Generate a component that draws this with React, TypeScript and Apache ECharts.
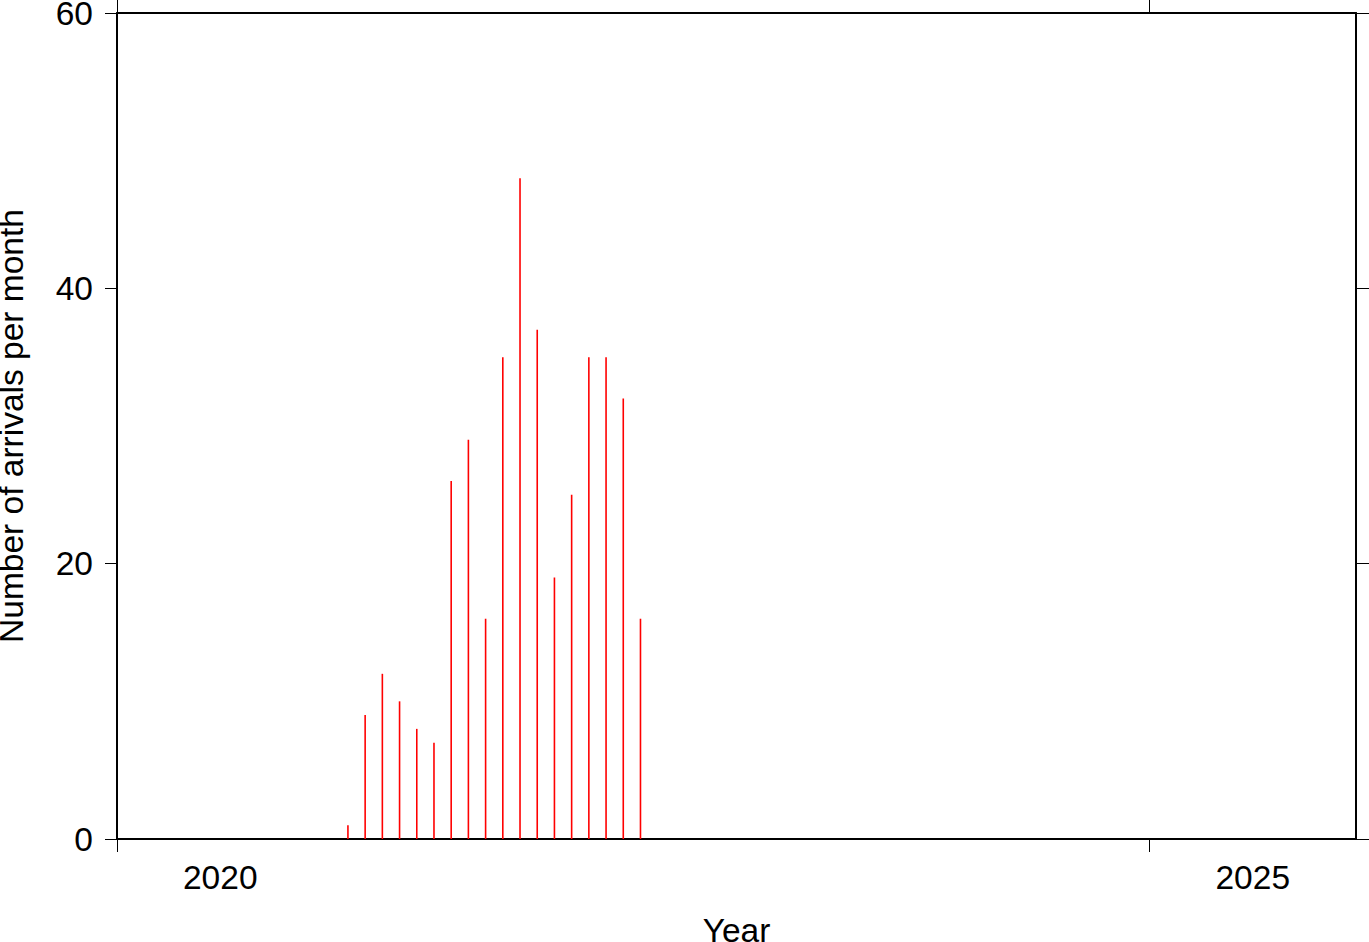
import React, { useEffect, useRef } from "react";
import * as echarts from "echarts";

const months = [
  "2021-02", "2021-03", "2021-04", "2021-05", "2021-06", "2021-07",
  "2021-08", "2021-09", "2021-10", "2021-11", "2021-12", "2022-01",
  "2022-02", "2022-03", "2022-04", "2022-05", "2022-06", "2022-07",
];
const arrivals = [1, 9, 12, 10, 8, 7, 26, 29, 16, 35, 48, 37, 19, 25, 35, 35, 32, 16];
const yearTicks = [2020, 2025];
const yearLabels = [2020, 2025];
const yTicks = [0, 20, 40, 60];

function monthToYear(m: string): number {
  const [y, mo] = m.split("-").map(Number);
  return y + (mo - 1 + 0.42) / 12;
}

const FONT = "Liberation Sans, Helvetica, Arial, sans-serif";
const FS = 33.5;

export default function App() {
  const ref = useRef<HTMLDivElement>(null);
  useEffect(() => {
    if (!ref.current) return;
    const chart = echarts.init(ref.current, null, { renderer: "svg" });
    const line = { show: true, onZero: false, lineStyle: { color: "#000", width: 2 } };
    chart.setOption({
      animation: false,
      backgroundColor: "#fff",
      grid: {
        left: 117,
        right: 13,
        top: 13,
        bottom: 103,
        containLabel: false,
        outerBoundsMode: "none",
      },
      xAxis: [
        {
          type: "value",
          position: "bottom",
          min: 2020,
          max: 2026,
          axisLine: line,
          axisTick: {
            show: true,
            customValues: yearTicks,
            length: 13,
            lineStyle: { color: "#000", width: 1 },
          },
          axisLabel: {
            show: true,
            customValues: yearLabels.map((y) => y + 0.5),
            formatter: (v: number) => String(Math.floor(v)),
            fontSize: FS,
            fontFamily: FONT,
            color: "#000",
            margin: 21,
          },
          splitLine: { show: false },
          name: "Year",
          nameLocation: "middle",
          nameGap: 74,
          nameTextStyle: { fontSize: FS, fontFamily: FONT, color: "#000" },
        },
        {
          type: "value",
          position: "top",
          min: 2020,
          max: 2026,
          axisLine: line,
          axisTick: {
            show: true,
            customValues: yearTicks,
            length: 13,
            lineStyle: { color: "#000", width: 1 },
          },
          axisLabel: { show: false },
          splitLine: { show: false },
        },
      ],
      yAxis: [
        {
          type: "value",
          position: "left",
          min: 0,
          max: 60,
          axisLine: line,
          axisTick: {
            show: true,
            customValues: yTicks,
            length: 12,
            lineStyle: { color: "#000", width: 1 },
          },
          axisLabel: {
            customValues: yTicks,
            fontSize: FS,
            fontFamily: FONT,
            color: "#000",
            margin: 24,
          },
          splitLine: { show: false },
          name: "Number of arrivals per month",
          nameLocation: "middle",
          nameRotate: 90,
          nameGap: 89,
          nameTextStyle: { fontSize: FS, fontFamily: FONT, color: "#000" },
        },
        {
          type: "value",
          position: "right",
          min: 0,
          max: 60,
          axisLine: line,
          axisTick: {
            show: true,
            customValues: yTicks,
            length: 13,
            lineStyle: { color: "#000", width: 1 },
          },
          axisLabel: { show: false },
          splitLine: { show: false },
        },
      ],
      series: [
        {
          type: "bar",
          xAxisIndex: 0,
          yAxisIndex: 0,
          barWidth: 1.6,
          itemStyle: { color: "#ff0000" },
          data: months.map((m, i) => [monthToYear(m), arrivals[i]]),
        },
      ],
    });
    return () => chart.dispose();
  }, []);
  return (
    <div
      ref={ref}
      style={{ position: "fixed", left: 0, top: 0, width: 1369, height: 942 }}
    />
  );
}
